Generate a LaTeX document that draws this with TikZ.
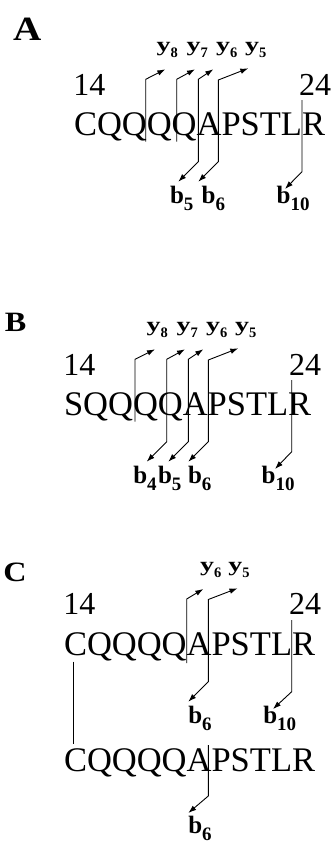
\documentclass[tikz,border=0pt]{standalone}
\usepackage{fontspec}
\usepackage{graphicx}
\setmainfont{Liberation Serif}
\usetikzlibrary{arrows.meta}
\newcommand\ylab[1]{{\bfseries\fontsize{20}{20}\selectfont\scalebox{1.4}[1]{y}\raisebox{-6pt}{\fontsize{14.5}{14.5}\selectfont #1}}}
\newcommand\blab[1]{{\bfseries\fontsize{25}{25}\selectfont b\raisebox{-7.5pt}{\fontsize{19}{19}\selectfont #1}}}
\newcommand\panellab[2]{{\bfseries\fontsize{#1}{#1}\selectfont\scalebox{1.15}[1]{#2}}}
\begin{document}
\begin{tikzpicture}[x=1pt,y=-1pt,
  every node/.style={inner sep=0pt,outer sep=0pt,anchor=base west},
  seqtext/.style={font=\fontsize{34.5}{34.5}\selectfont},
  numtext/.style={font=\fontsize{32}{32}\selectfont},
  link/.style={line width=0.9pt,line join=miter},
  arr/.style={link,-{Latex[length=8pt,width=5.5pt]}},
  darr/.style={link,{Latex[length=8pt,width=5.5pt]}-{Latex[length=8pt,width=5.5pt]}}]
\fill[white] (0,0) rectangle (335,844);
\useasboundingbox (0,0) rectangle (335,844);

% ---------------- Panel A ----------------
\node (labA) at (13,40) {\panellab{34}{A}};
\node[numtext] (nA14) at (73.4,95) {14};
\node[numtext] (nA24) at (299,95) {24};
\node[seqtext] (seqA) at (74,135) {CQQQQAPSTLR};
\node (Ay8) at (156.7,51) {\ylab{8}};
\node (Ay7) at (186.7,51) {\ylab{7}};
\node (Ay6) at (216,51) {\ylab{6}};
\node (Ay5) at (245,51) {\ylab{5}};
\node (Ab5) at (170,203) {\blab{5}};
\node (Ab6) at (201.7,203) {\blab{6}};
\node (Ab10) at (276.7,203) {\blab{10}};
% y8
\coordinate (a1b) at (145.7,141.7); \coordinate (a1t) at (145.7,79.3); \coordinate (a1y) at (165.3,69.3);
\draw[arr] (a1b) -- (a1t) -- (a1y);
% y7
\coordinate (a2b) at (176.7,141.7); \coordinate (a2t) at (176.7,79.3); \coordinate (a2y) at (195,69.3);
\draw[arr] (a2b) -- (a2t) -- (a2y);
% y6 / b5
\coordinate (a3p) at (178.3,181.7); \coordinate (a3b) at (198.3,161.7); \coordinate (a3t) at (198.3,79.3); \coordinate (a3y) at (213.3,69.3);
\draw[darr] (a3p) -- (a3b) -- (a3t) -- (a3y);
% y5 / b6
\coordinate (a4p) at (198.3,181.7); \coordinate (a4b) at (218.3,161.7); \coordinate (a4t) at (218.3,80); \coordinate (a4y) at (248.3,68.3);
\draw[darr] (a4p) -- (a4b) -- (a4t) -- (a4y);
% b10
\coordinate (a5t) at (302,100); \coordinate (a5b) at (302,171.7); \coordinate (a5p) at (285,189);
\draw[arr] (a5t) -- (a5b) -- (a5p);

% ---------------- Panel B ----------------
\node (labB) at (5,331.7) {\panellab{28}{B}};
\node[numtext] (nB14) at (63.4,375) {14};
\node[numtext] (nB24) at (289,375) {24};
\node[seqtext] (seqB) at (64,415) {SQQQQAPSTLR};
\node (By8) at (146.7,331) {\ylab{8}};
\node (By7) at (176.7,331) {\ylab{7}};
\node (By6) at (206,331) {\ylab{6}};
\node (By5) at (235,331) {\ylab{5}};
\node (Bb4) at (133.3,483) {\blab{4}};
\node (Bb5) at (158,483) {\blab{5}};
\node (Bb6) at (188,483) {\blab{6}};
\node (Bb10) at (261.7,483) {\blab{10}};
% y8
\coordinate (b1b) at (135,421.7); \coordinate (b1t) at (135,359.3); \coordinate (b1y) at (155,349.3);
\draw[arr] (b1b) -- (b1t) -- (b1y);
% y7 / b4
\coordinate (b2p) at (146.7,461.7); \coordinate (b2b) at (166.7,441.7); \coordinate (b2t) at (166.7,359.3); \coordinate (b2y) at (185,349.3);
\draw[darr] (b2p) -- (b2b) -- (b2t) -- (b2y);
% y6 / b5
\coordinate (b3p) at (168.3,461.7); \coordinate (b3b) at (188.3,441.7); \coordinate (b3t) at (188.3,359.3); \coordinate (b3y) at (203.3,349.3);
\draw[darr] (b3p) -- (b3b) -- (b3t) -- (b3y);
% y5 / b6
\coordinate (b4p) at (188.3,461.7); \coordinate (b4b) at (208.3,441.7); \coordinate (b4t) at (208.3,360); \coordinate (b4y) at (238.3,348.3);
\draw[darr] (b4p) -- (b4b) -- (b4t) -- (b4y);
% b10
\coordinate (b5t) at (291.7,380); \coordinate (b5b) at (291.7,451.7); \coordinate (b5p) at (275,469);
\draw[arr] (b5t) -- (b5b) -- (b5p);

% ---------------- Panel C ----------------
\node (labC) at (3.3,581.7) {\panellab{28}{C}};
\node[numtext] (nC14) at (63.4,614) {14};
\node[numtext] (nC24) at (289,614) {24};
\node[seqtext] (seqC) at (64,655) {CQQQQAPSTLR};
\node[seqtext] (seqD) at (64,771) {CQQQQAPSTLR};
\node (Cy6) at (200,571) {\ylab{6}};
\node (Cy5) at (228.3,571) {\ylab{5}};
\node (Cb6) at (188.3,723) {\blab{6}};
\node (Cb10) at (263.3,723) {\blab{10}};
\node (Db6) at (188.3,833) {\blab{6}};
% y6
\coordinate (c1b) at (186.7,663); \coordinate (c1t) at (186.7,599); \coordinate (c1y) at (203.3,589);
\draw[arr] (c1b) -- (c1t) -- (c1y);
% y5 / b6
\coordinate (c2p) at (188.3,701.7); \coordinate (c2b) at (208.3,681.7); \coordinate (c2t) at (208.3,599.5); \coordinate (c2y) at (237.5,588.3);
\draw[darr] (c2p) -- (c2b) -- (c2t) -- (c2y);
% b10
\coordinate (c3t) at (291.7,620); \coordinate (c3b) at (291.7,691.7); \coordinate (c3p) at (273,709);
\draw[arr] (c3t) -- (c3b) -- (c3p);
% disulfide link
\coordinate (ss1) at (73.3,661.7); \coordinate (ss2) at (73.3,744);
\draw[link] (ss1) -- (ss2);
% second chain b6
\coordinate (d1t) at (208.3,745); \coordinate (d1b) at (208.3,796); \coordinate (d1p) at (188.3,813);
\draw[arr] (d1t) -- (d1b) -- (d1p);
\end{tikzpicture}
\end{document}
